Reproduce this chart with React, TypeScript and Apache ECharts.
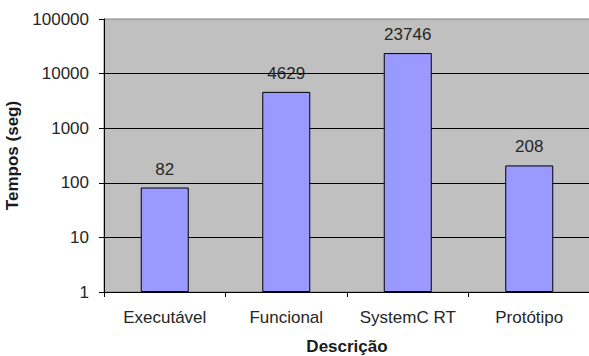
import React, { useEffect, useRef } from "react";
import * as echarts from "echarts";

const categories = ["Executável", "Funcional", "SystemC RT", "Protótipo"];
const tempos = [82, 4629, 23746, 208];

const FONT = "'Liberation Sans', Arial, sans-serif";

export default function App() {
  const ref = useRef<HTMLDivElement>(null);
  useEffect(() => {
    if (!ref.current) return;
    const chart = echarts.init(ref.current, null, { renderer: "svg" });
    chart.setOption({
      animation: false,
      backgroundColor: "#ffffff",
      textStyle: { fontFamily: FONT },
      grid: {
        left: 104,
        top: 19,
        width: 486,
        height: 273,
        containLabel: false,
        outerBoundsMode: "none",
        show: true,
        backgroundColor: "#C0C0C0",
        borderColor: "#808080",
        borderWidth: 1,
      },
      xAxis: {
        type: "category",
        data: categories,
        boundaryGap: true,
        name: "Descrição",
        nameLocation: "middle",
        nameGap: 46,
        nameTextStyle: { fontFamily: FONT, fontSize: 17, fontWeight: "bold", color: "#1a1a1a" },
        axisLine: { show: true, lineStyle: { color: "#000", width: 1 } },
        axisTick: { show: true, interval: 0, length: 5, lineStyle: { color: "#000" } },
        axisLabel: { interval: 0, margin: 17, fontFamily: FONT, fontSize: 17, color: "#262626" },
        splitLine: { show: false },
      },
      yAxis: {
        type: "log",
        logBase: 10,
        min: 1,
        max: 100000,
        name: "Tempos (seg)",
        nameLocation: "middle",
        nameGap: 70,
        nameTextStyle: { fontFamily: FONT, fontSize: 17, fontWeight: "bold", color: "#1a1a1a" },
        axisLine: { show: true, lineStyle: { color: "#000", width: 1 } },
        axisTick: { show: true, length: 5, lineStyle: { color: "#000" } },
        axisLabel: {
          margin: 15,
          fontFamily: FONT,
          fontSize: 17,
          color: "#262626",
          formatter: (v: number) => String(Math.round(v)),
        },
        splitLine: { show: true, showMaxLine: false, lineStyle: { color: "#000", width: 1 } },
      },
      series: [
        {
          type: "bar",
          data: tempos,
          barWidth: 48,
          itemStyle: { color: "#9999FF", borderColor: "#000", borderWidth: 1 },
          label: {
            show: true,
            position: "top",
            distance: 10,
            fontFamily: FONT,
            fontSize: 17,
            color: "#262626",
          },
        },
      ],
    });
    return () => chart.dispose();
  }, []);
  return (
    <div
      ref={ref}
      style={{ position: "fixed", left: 0, top: 0, width: 589, height: 356 }}
    />
  );
}
